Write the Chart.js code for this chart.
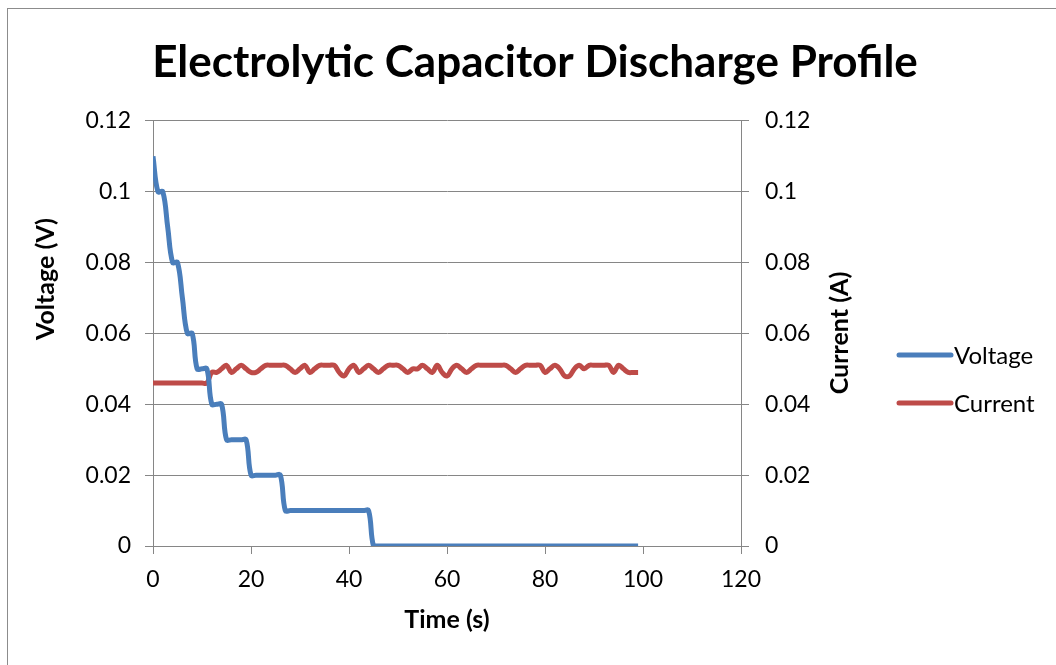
<!DOCTYPE html>
<html>
<head>
<meta charset="utf-8">
<title>Electrolytic Capacitor Discharge Profile</title>
<script src="https://cdn.jsdelivr.net/npm/chart.js@4.4.0/dist/chart.umd.min.js"></script>
<style>
    html, body { margin: 0; padding: 0; background: #fff; }
    #wrap { position: relative; width: 1056px; height: 665px; overflow: hidden; }
    #frame { position: absolute; left: 7px; top: 8px; width: 1100px; height: 700px;
             border: 1px solid #8c8c8c; box-sizing: border-box; }
    #chart { position: absolute; left: 0; top: 0; }
</style>
</head>
<body>
<div id="wrap">
    <div id="frame"></div>
    <canvas id="chart" width="1056" height="665"></canvas>
</div>
<script>
// Sample times in seconds
const timeSec = [
    0, 1, 2, 3, 4, 5, 6, 7, 8, 9,
    10, 11, 12, 13, 14, 15, 16, 17, 18, 19,
    20, 21, 22, 23, 24, 25, 26, 27, 28, 29,
    30, 31, 32, 33, 34, 35, 36, 37, 38, 39,
    40, 41, 42, 43, 44, 45, 46, 47, 48, 49,
    50, 51, 52, 53, 54, 55, 56, 57, 58, 59,
    60, 61, 62, 63, 64, 65, 66, 67, 68, 69,
    70, 71, 72, 73, 74, 75, 76, 77, 78, 79,
    80, 81, 82, 83, 84, 85, 86, 87, 88, 89,
    90, 91, 92, 93, 94, 95, 96, 97, 98, 99,
];

// Voltage (V)
const voltage = [
    0.11, 0.1, 0.1, 0.09, 0.08, 0.08, 0.07, 0.06, 0.06, 0.05,
    0.05, 0.05, 0.04, 0.04, 0.04, 0.03, 0.03, 0.03, 0.03, 0.03,
    0.02, 0.02, 0.02, 0.02, 0.02, 0.02, 0.02, 0.01, 0.01, 0.01,
    0.01, 0.01, 0.01, 0.01, 0.01, 0.01, 0.01, 0.01, 0.01, 0.01,
    0.01, 0.01, 0.01, 0.01, 0.01, 0, 0, 0, 0, 0,
    0, 0, 0, 0, 0, 0, 0, 0, 0, 0,
    0, 0, 0, 0, 0, 0, 0, 0, 0, 0,
    0, 0, 0, 0, 0, 0, 0, 0, 0, 0,
    0, 0, 0, 0, 0, 0, 0, 0, 0, 0,
    0, 0, 0, 0, 0, 0, 0, 0, 0, 0,
];

// Current (A)
const current = [
    0.046, 0.046, 0.046, 0.046, 0.046, 0.046, 0.046, 0.046, 0.046, 0.046,
    0.046, 0.046, 0.049, 0.049, 0.05, 0.051, 0.049, 0.05, 0.051, 0.05,
    0.049, 0.049, 0.05, 0.051, 0.051, 0.051, 0.051, 0.051, 0.05, 0.049,
    0.05, 0.051, 0.049, 0.05, 0.051, 0.051, 0.051, 0.051, 0.049, 0.048,
    0.05, 0.051, 0.049, 0.05, 0.051, 0.05, 0.049, 0.05, 0.051, 0.051,
    0.051, 0.05, 0.049, 0.05, 0.05, 0.051, 0.05, 0.049, 0.051, 0.049,
    0.048, 0.05, 0.051, 0.05, 0.049, 0.05, 0.051, 0.051, 0.051, 0.051,
    0.051, 0.051, 0.051, 0.05, 0.049, 0.05, 0.051, 0.051, 0.051, 0.051,
    0.049, 0.05, 0.051, 0.05, 0.048, 0.048, 0.05, 0.051, 0.05, 0.051,
    0.051, 0.051, 0.051, 0.051, 0.049, 0.051, 0.05, 0.049, 0.049, 0.049,
];

const voltageColor = "#4a7ebb";
const currentColor = "#be4b48";
const axisColor = "#868686";
const fontFamily = "Lato, 'Open Sans', sans-serif";

const toPoints = (values) => values.map((v, i) => ({ x: timeSec[i], y: v }));
const fmt = (v) => String(+v.toFixed(2));

// Axis titles (both read bottom-to-top) and the legend on the right
const extras = {
    id: "extras",
    afterDraw(chart) {
        const c = chart.ctx;
        c.save();
        c.fillStyle = "#000";
        c.font = "bold 25px " + fontFamily;
        c.textAlign = "center";
        c.textBaseline = "middle";
        [["Voltage (V)", 46, 279], ["Current (A)", 840, 333]].forEach(([t, x, y]) => {
            c.save();
            c.translate(x, y);
            c.rotate(-Math.PI / 2);
            c.fillText(t, 0, 0);
            c.restore();
        });
        c.font = "24px " + fontFamily;
        c.textAlign = "left";
        chart.data.datasets.forEach((ds, i) => {
            const y = 355 + i * 48;
            c.strokeStyle = ds.borderColor;
            c.lineWidth = 5;
            c.lineCap = "round";
            c.beginPath();
            c.moveTo(899, y);
            c.lineTo(951, y);
            c.stroke();
            c.fillText(ds.label, 954, y + 1);
        });
        c.restore();
    },
};

new Chart(document.getElementById("chart"), {
    type: "line",
    data: {
        datasets: [
            {
                label: "Voltage",
                data: toPoints(voltage),
                borderColor: voltageColor,
                borderWidth: 5,
                pointRadius: 0,
                tension: 0.4,
                yAxisID: "y",
            },
            {
                label: "Current",
                data: toPoints(current),
                borderColor: currentColor,
                borderWidth: 5,
                pointRadius: 0,
                tension: 0.4,
                yAxisID: "y2",
            },
        ],
    },
    options: {
        responsive: false,
        animation: false,
        layout: { padding: { left: 14, right: 0, top: 0, bottom: 0 } },
        plugins: {
            legend: { display: false },
            tooltip: { enabled: false },
            title: {
                display: true,
                text: "Electrolytic Capacitor Discharge Profile",
                color: "#000",
                font: { family: fontFamily, size: 44, weight: "bold", lineHeight: 1.2 },
                padding: { top: 36, bottom: 32 },
            },
        },
        scales: {
            x: {
                type: "linear",
                min: 0,
                max: 120,
                ticks: { stepSize: 20, color: "#000", padding: 12, font: { family: fontFamily, size: 23 } },
                grid: { drawOnChartArea: false, color: axisColor, tickLength: 8 },
                border: { color: axisColor },
                title: {
                    display: true,
                    text: "Time (s)",
                    color: "#000",
                    font: { family: fontFamily, size: 25, weight: "bold" },
                    padding: { top: 12, bottom: 30 },
                },
                afterFit: (s) => { s.height = 119; },
            },
            y: {
                position: "left",
                min: 0,
                max: 0.12,
                ticks: { stepSize: 0.02, color: "#000", padding: 14, callback: fmt,
                         font: { family: fontFamily, size: 23 } },
                grid: { color: axisColor, tickLength: 8 },
                border: { color: axisColor },
                afterFit: (s) => { s.width = 139; },
            },
            y2: {
                position: "right",
                min: 0,
                max: 0.12,
                ticks: { stepSize: 0.02, color: "#000", padding: 16, callback: fmt,
                         font: { family: fontFamily, size: 23 } },
                grid: { drawOnChartArea: false, color: axisColor, tickLength: 8 },
                border: { color: axisColor },
                afterFit: (s) => { s.width = 315; },
            },
        },
    },
    plugins: [extras],
});
</script>
</body>
</html>
